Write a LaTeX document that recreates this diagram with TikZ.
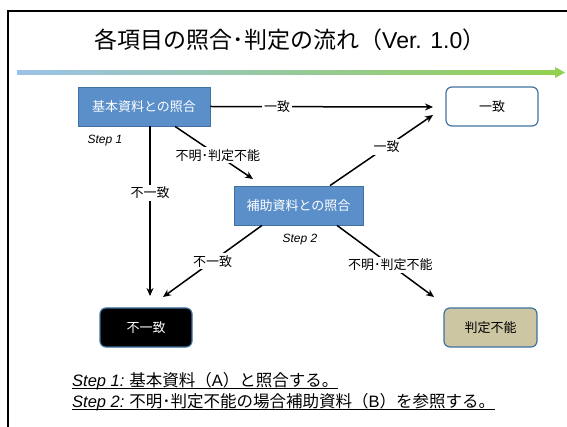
\documentclass[tikz,border=0pt]{standalone}
\usepackage{fontspec}
\setmainfont{Noto Sans CJK JP}
\newfontfamily\lat{Liberation Sans}
\usetikzlibrary{arrows.meta,calc}
\definecolor{boxblue}{RGB}{91,143,201}
\definecolor{edgeblue}{RGB}{65,113,160}
\definecolor{tanbox}{RGB}{205,198,163}
\definecolor{lblue}{RGB}{155,194,232}
\definecolor{lgreen}{RGB}{146,208,80}
\newcommand\myul[1]{\setbox0\hbox{#1}\rlap{\rule[-3pt]{\wd0}{1.3pt}}\box0}
\begin{document}
\begin{tikzpicture}[x=1pt,y=-1pt,
 stepbox/.style={draw=edgeblue, line width=0.8pt, fill=boxblue, text=white, minimum width=132pt, minimum height=39pt, inner sep=0pt, font=\fontsize{13}{15}\selectfont},
 result/.style={draw=edgeblue, line width=1.2pt, rounded corners=6pt, minimum width=92pt, minimum height=39pt, inner sep=0pt, font=\fontsize{13}{15}\selectfont},
 arr/.style={line width=1.5pt, -{Stealth[length=8pt,width=7pt]}},
 lbl/.style={fill=white, inner sep=2pt, font=\fontsize{13}{15}\selectfont},
 steplbl/.style={inner sep=0pt, font=\lat\itshape\fontsize{12}{14}\selectfont},
 bottomtxt/.style={anchor=base west, inner sep=0pt, font=\fontsize{16.5}{18}\selectfont},
]
\useasboundingbox (0,0) rectangle (567,427);
\draw[line width=1.5pt] (567,11) -- (8,11) -- (8,427);
\node[inner sep=0pt, font=\fontsize{23}{27}\selectfont] (title) at (290,40) {各項目の照合･判定の流れ（{\lat Ver. 1.0}）};
\shade[left color=lblue, right color=lgreen] (17,70.5) rectangle (556,74.5);
\fill[lgreen] (555,67) -- (565,72.5) -- (555,78) -- cycle;

\node[stepbox] (b1) at (144,106.5) {基本資料との照合};
\node[result] (ok) at (492,106.5) {一致};
\node[stepbox, minimum width=129pt] (b2) at (298.5,205.5) {補助資料との照合};
\node[result, fill=black, text=white] (ng) at (146,327.5) {不一致};
\node[result, fill=tanbox, minimum width=93pt] (ud) at (490.5,327.5) {判定不能};

\node[steplbl] (s1) at (105,141) {Step 1};
\node[steplbl] (s2) at (300,240) {Step 2};

\coordinate (t1) at (433,107);
\coordinate (t2) at (150,296);
\coordinate (t3) at (253,179);
\coordinate (t4) at (433,115);
\coordinate (t5) at (163,297);
\coordinate (t6) at (434,297);

\draw[arr] (b1.east) -- node[lbl,pos=0.3]{一致} (t1);
\draw[arr] ($(b1.south)+(6,0)$) -- node[lbl,pos=0.39]{不一致} (t2);
\draw[arr] ($(b1.south)+(31,0)$) -- node[lbl,pos=0.55]{不明･判定不能} (t3);
\draw[arr] ($(b2.north)+(31.5,0)$) -- node[lbl,pos=0.55]{一致} (t4);
\draw[arr] ($(b2.south)+(-36.5,0)$) -- node[lbl,pos=0.5]{不一致} (t5);
\draw[arr] ($(b2.south)+(38.5,0)$) -- node[lbl,pos=0.55]{不明･判定不能} (t6);

\node[bottomtxt] (n1) at (72,386) {\myul{{\lat\itshape Step 1:} 基本資料（{\lat A}）と照合する。}};
\node[bottomtxt] (n2) at (72,407) {\myul{{\lat\itshape Step 2:} 不明･判定不能の場合補助資料（{\lat B}）を参照する。}};
\end{tikzpicture}
\end{document}
